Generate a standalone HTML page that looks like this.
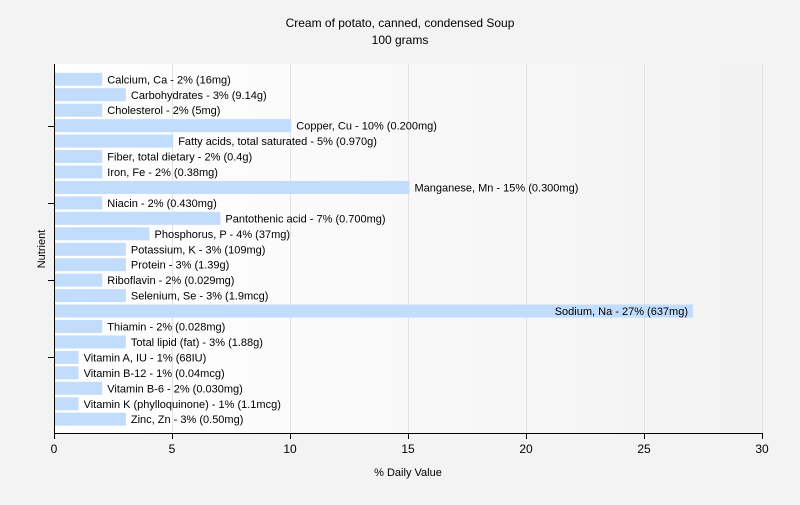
<!DOCTYPE html>
<html><head><style>
body{margin:0;background:#f3f3f3;}
text{font-family:"Liberation Sans",Arial,sans-serif;font-size:11px;fill:#000;}
</style></head><body>
<svg width="800" height="500" xmlns="http://www.w3.org/2000/svg">
<defs><linearGradient id="g" x1="0" x2="1" y1="0" y2="0"><stop offset="0" stop-color="#ffffff"/><stop offset="1" stop-color="#f2f2f2"/></linearGradient></defs>
<rect width="800" height="500" fill="#f3f3f3"/>
<rect x="54" y="64" width="709" height="370" fill="url(#g)"/>
<text x="400" y="27" text-anchor="middle" style="font-size:12px">Cream of potato, canned, condensed Soup</text>
<text x="400" y="44" text-anchor="middle" style="font-size:12px">100 grams</text>
<g stroke="#e2e2e2" stroke-width="1">
<line x1="172.5" y1="64" x2="172.5" y2="433"/><line x1="290.5" y1="64" x2="290.5" y2="433"/><line x1="408.5" y1="64" x2="408.5" y2="433"/><line x1="526.5" y1="64" x2="526.5" y2="433"/><line x1="644.5" y1="64" x2="644.5" y2="433"/><line x1="762.5" y1="64" x2="762.5" y2="433"/>
</g>
<g fill="#c2dcfb">
<rect x="55" y="72.8" width="47.3" height="13"/>
<rect x="55" y="88.25" width="70.9" height="13"/>
<rect x="55" y="103.7" width="47.3" height="13"/>
<rect x="55" y="119.15" width="236.3" height="13"/>
<rect x="55" y="134.6" width="118.2" height="13"/>
<rect x="55" y="150.05" width="47.3" height="13"/>
<rect x="55" y="165.5" width="47.3" height="13"/>
<rect x="55" y="180.95" width="354.5" height="13"/>
<rect x="55" y="196.4" width="47.3" height="13"/>
<rect x="55" y="211.85" width="165.4" height="13"/>
<rect x="55" y="227.3" width="94.5" height="13"/>
<rect x="55" y="242.75" width="70.9" height="13"/>
<rect x="55" y="258.2" width="70.9" height="13"/>
<rect x="55" y="273.65" width="47.3" height="13"/>
<rect x="55" y="289.1" width="70.9" height="13"/>
<rect x="55" y="304.55" width="638" height="13"/>
<rect x="55" y="320" width="47.3" height="13"/>
<rect x="55" y="335.45" width="70.9" height="13"/>
<rect x="55" y="350.9" width="23.6" height="13"/>
<rect x="55" y="366.35" width="23.6" height="13"/>
<rect x="55" y="381.8" width="47.3" height="13"/>
<rect x="55" y="397.25" width="23.6" height="13"/>
<rect x="55" y="412.7" width="70.9" height="13"/>
</g>
<g>
<text x="107.3" y="83.3">Calcium, Ca - 2% (16mg)</text>
<text x="130.9" y="98.75">Carbohydrates - 3% (9.14g)</text>
<text x="107.3" y="114.2">Cholesterol - 2% (5mg)</text>
<text x="296.3" y="129.65">Copper, Cu - 10% (0.200mg)</text>
<text x="178.2" y="145.1">Fatty acids, total saturated - 5% (0.970g)</text>
<text x="107.3" y="160.55">Fiber, total dietary - 2% (0.4g)</text>
<text x="107.3" y="176">Iron, Fe - 2% (0.38mg)</text>
<text x="414.5" y="191.45">Manganese, Mn - 15% (0.300mg)</text>
<text x="107.3" y="206.9">Niacin - 2% (0.430mg)</text>
<text x="225.4" y="222.35">Pantothenic acid - 7% (0.700mg)</text>
<text x="154.5" y="237.8">Phosphorus, P - 4% (37mg)</text>
<text x="130.9" y="253.25">Potassium, K - 3% (109mg)</text>
<text x="130.9" y="268.7">Protein - 3% (1.39g)</text>
<text x="107.3" y="284.15">Riboflavin - 2% (0.029mg)</text>
<text x="130.9" y="299.6">Selenium, Se - 3% (1.9mcg)</text>
<text x="688" y="315.05" text-anchor="end">Sodium, Na - 27% (637mg)</text>
<text x="107.3" y="330.5">Thiamin - 2% (0.028mg)</text>
<text x="130.9" y="345.95">Total lipid (fat) - 3% (1.88g)</text>
<text x="83.6" y="361.4">Vitamin A, IU - 1% (68IU)</text>
<text x="83.6" y="376.85">Vitamin B-12 - 1% (0.04mcg)</text>
<text x="107.3" y="392.3">Vitamin B-6 - 2% (0.030mg)</text>
<text x="83.6" y="407.75">Vitamin K (phylloquinone) - 1% (1.1mcg)</text>
<text x="130.9" y="423.2">Zinc, Zn - 3% (0.50mg)</text>
</g>
<g stroke="#000" stroke-width="1">
<line x1="54.5" y1="64" x2="54.5" y2="434"/><line x1="54" y1="433.5" x2="763" y2="433.5"/>
<line x1="48" y1="126.5" x2="54" y2="126.5"/><line x1="48" y1="203.5" x2="54" y2="203.5"/><line x1="48" y1="280.5" x2="54" y2="280.5"/><line x1="48" y1="357.5" x2="54" y2="357.5"/>
<line x1="54.5" y1="434" x2="54.5" y2="439"/><line x1="172.5" y1="434" x2="172.5" y2="439"/><line x1="290.5" y1="434" x2="290.5" y2="439"/><line x1="408.5" y1="434" x2="408.5" y2="439"/><line x1="526.5" y1="434" x2="526.5" y2="439"/><line x1="644.5" y1="434" x2="644.5" y2="439"/><line x1="762.5" y1="434" x2="762.5" y2="439"/>
</g>
<g text-anchor="middle">
<text x="54" y="453" style="font-size:12px">0</text><text x="172" y="453" style="font-size:12px">5</text><text x="290" y="453" style="font-size:12px">10</text><text x="408" y="453" style="font-size:12px">15</text><text x="526" y="453" style="font-size:12px">20</text><text x="644" y="453" style="font-size:12px">25</text><text x="762" y="453" style="font-size:12px">30</text>
</g>
<text x="408" y="476" text-anchor="middle">% Daily Value</text>
<text x="45" y="249" text-anchor="middle" transform="rotate(-90 45 249)">Nutrient</text>
</svg>
</body></html>
